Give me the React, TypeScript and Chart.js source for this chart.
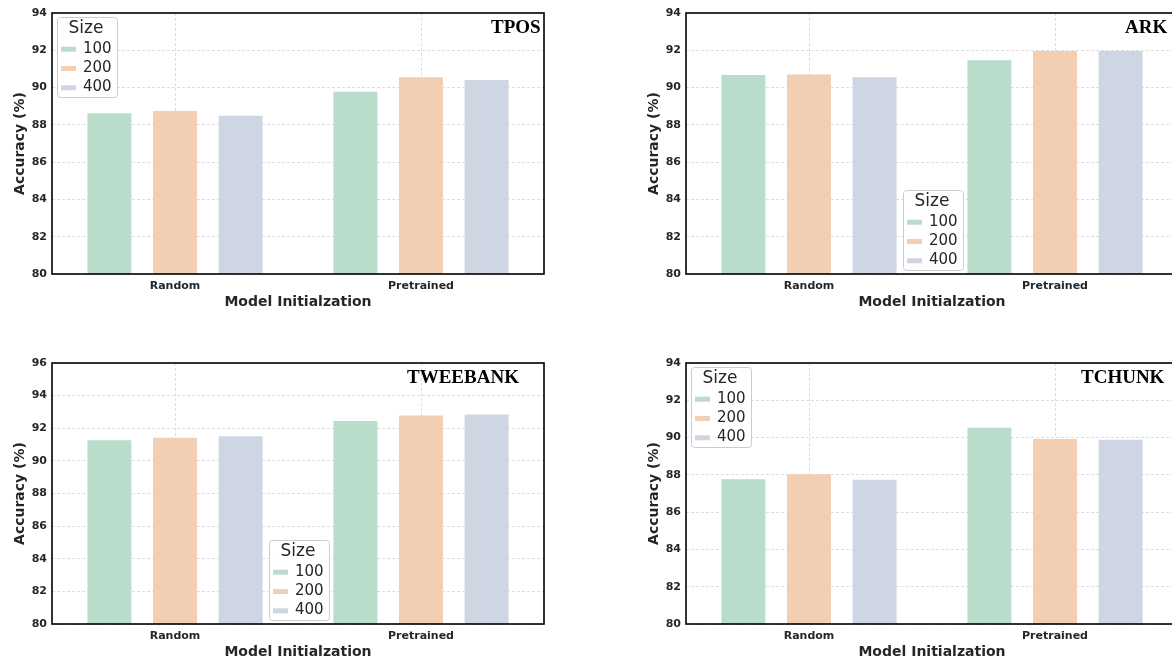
import React, { useEffect, useRef } from 'react';
import { Chart, registerables } from 'chart.js';

Chart.register(...registerables);

// ---------- data ----------
const categories = ['Random', 'Pretrained'];
const sizeLabels = ['100', '200', '400'];
const sizeColors = ['#B9DCCB', '#F2CEB3', '#CFD6E3'];

const tpos100 = [88.62, 89.77];
const tpos200 = [88.74, 90.56];
const tpos400 = [88.49, 90.4];

const ark100 = [90.68, 91.47];
const ark200 = [90.7, 91.96];
const ark400 = [90.56, 91.96];

const tweebank100 = [91.27, 92.45];
const tweebank200 = [91.41, 92.78];
const tweebank400 = [91.51, 92.84];

const tchunk100 = [87.77, 90.53];
const tchunk200 = [88.03, 89.93];
const tchunk400 = [87.74, 89.88];

const yMin = 80;
const yStep = 2;

// ---------- layout / style per panel ----------
type Panel = {
  id: string;
  title: string;
  series: number[][];
  yMax: number;
  left: number;
  top: number;
  titleX: number;
  legendX: number;
  legendY: number;
};

const panels: Panel[] = [
  { id: 'tpos', title: 'TPOS', series: [tpos100, tpos200, tpos400], yMax: 94, left: 0, top: 0, titleX: 491, legendX: 57, legendY: 17 },
  { id: 'ark', title: 'ARK', series: [ark100, ark200, ark400], yMax: 94, left: 634, top: 0, titleX: 491, legendX: 269, legendY: 190 },
  { id: 'tweebank', title: 'TWEEBANK', series: [tweebank100, tweebank200, tweebank400], yMax: 96, left: 0, top: 350, titleX: 407, legendX: 269, legendY: 190 },
  { id: 'tchunk', title: 'TCHUNK', series: [tchunk100, tchunk200, tchunk400], yMax: 94, left: 634, top: 350, titleX: 447, legendX: 57, legendY: 17 },
];

const CW = 560;
const CH = 330;
const TEXT = '#262626';
const GRID = '#d6d6d6';
const SANS = '"DejaVu Sans", sans-serif';

function roundRect(ctx: CanvasRenderingContext2D, x: number, y: number, w: number, h: number, r: number) {
  ctx.beginPath();
  ctx.moveTo(x + r, y);
  ctx.lineTo(x + w - r, y);
  ctx.arcTo(x + w, y, x + w, y + r, r);
  ctx.lineTo(x + w, y + h - r);
  ctx.arcTo(x + w, y + h, x + w - r, y + h, r);
  ctx.lineTo(x + r, y + h);
  ctx.arcTo(x, y + h, x, y + h - r, r);
  ctx.lineTo(x, y + r);
  ctx.arcTo(x, y, x + r, y, r);
  ctx.closePath();
}

function makeOverlay(panel: Panel) {
  return {
    id: 'overlay_' + panel.id,
    afterDatasetsDraw(chart: any) {
      const { ctx, chartArea: a } = chart;
      ctx.save();
      // frame (spines)
      ctx.setLineDash([]);
      ctx.strokeStyle = '#000';
      ctx.lineWidth = 1.6;
      ctx.strokeRect(a.left, a.top, a.right - a.left, a.bottom - a.top);

      // panel title
      ctx.font = 'bold 19px "Liberation Serif", "Times New Roman", serif';
      ctx.fillStyle = '#000';
      ctx.textAlign = 'left';
      ctx.textBaseline = 'alphabetic';
      ctx.fillText(panel.title, panel.titleX, 33);

      // legend
      const L = panel.legendX;
      const T = panel.legendY;
      const W = 60;
      const H = 80;
      roundRect(ctx, L + 0.5, T + 0.5, W, H, 3);
      ctx.fillStyle = 'rgba(255,255,255,0.85)';
      ctx.fill();
      ctx.strokeStyle = '#cccccc';
      ctx.lineWidth = 1;
      ctx.stroke();

      ctx.fillStyle = TEXT;
      ctx.textAlign = 'center';
      ctx.font = '17px ' + SANS;
      ctx.fillText('Size', L + W / 2 - 1, T + 16.3);

      const baselines = [35.7, 55, 74.3];
      const dsets = chart.data.datasets;
      ctx.textAlign = 'left';
      ctx.font = '15px ' + SANS;
      dsets.forEach((ds: any, i: number) => {
        const by = T + baselines[i];
        ctx.fillStyle = ds.backgroundColor;
        ctx.fillRect(L + 4, by - 6, 15, 5);
        ctx.fillStyle = TEXT;
        ctx.fillText(ds.label, L + 26, by);
      });
      ctx.restore();
    },
  };
}

function PanelChart({ panel }: { panel: Panel }) {
  const ref = useRef<HTMLCanvasElement | null>(null);
  useEffect(() => {
    if (!ref.current) return;
    const chart = new Chart(ref.current, {
      type: 'bar',
      data: {
        labels: categories,
        datasets: panel.series.map((vals, i) => ({
          label: sizeLabels[i],
          data: vals,
          backgroundColor: sizeColors[i],
          borderWidth: 0,
          categoryPercentage: 0.8,
          barPercentage: 0.67,
        })),
      },
      options: {
        responsive: false,
        maintainAspectRatio: false,
        animation: false,
        devicePixelRatio: 1,
        layout: { padding: { left: 0, right: CW - 544, top: 13, bottom: CH - 274 - 38 } },
        plugins: {
          legend: { display: false },
          title: { display: false },
          tooltip: { enabled: false },
        },
        scales: {
          x: {
            type: 'category',
            offset: true,
            grid: { offset: false, color: GRID, lineWidth: 0.8, drawTicks: false },
            border: { display: false, dash: [3, 2] },
            ticks: { padding: 6, color: TEXT, font: { family: SANS, size: 11, weight: 'bold' } },
            title: {
              display: true,
              text: 'Model Initialzation',
              color: TEXT,
              font: { family: SANS, size: 14, weight: 'bold' },
              padding: { top: 0, bottom: 1 },
            },
            afterFit: (s: any) => {
              s.height = 38;
            },
          },
          y: {
            min: yMin,
            max: panel.yMax,
            grid: { color: GRID, lineWidth: 0.8, drawTicks: false },
            border: { display: false, dash: [3, 2] },
            ticks: { stepSize: yStep, padding: 5, color: TEXT, font: { family: SANS, size: 11, weight: 'bold' } },
            title: {
              display: true,
              text: 'Accuracy (%)',
              color: TEXT,
              font: { family: SANS, size: 14, weight: 'bold' },
              padding: { top: 12, bottom: 0 },
            },
            afterFit: (s: any) => {
              s.width = 52;
            },
          },
        },
      } as any,
      plugins: [makeOverlay(panel)],
    });
    return () => chart.destroy();
  }, [panel]);

  return (
    <canvas
      ref={ref}
      width={CW}
      height={CH}
      style={{ position: 'absolute', left: panel.left, top: panel.top, width: CW, height: CH }}
    />
  );
}

export default function App() {
  return (
    <div
      style={{
        position: 'fixed',
        left: 0,
        top: 0,
        width: 1172,
        height: 659,
        overflow: 'hidden',
        background: '#ffffff',
      }}
    >
      {panels.map((p) => (
        <PanelChart key={p.id} panel={p} />
      ))}
    </div>
  );
}
